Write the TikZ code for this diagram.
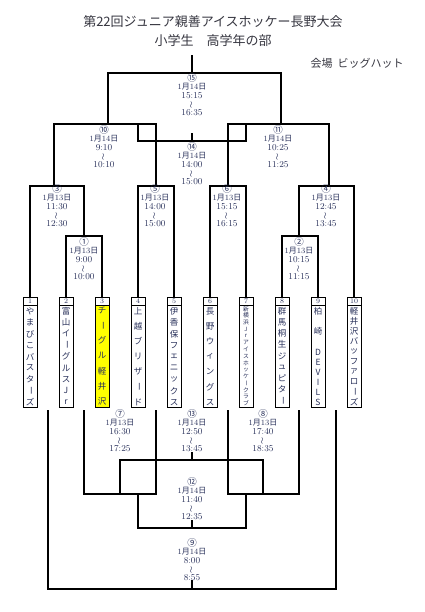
\documentclass[tikz,border=0pt]{standalone}
\usepackage{fontspec}
\newfontfamily\jp{Noto Sans CJK JP}
\usetikzlibrary{positioning}

\definecolor{ink}{RGB}{40,48,90}
\definecolor{titleink}{RGB}{55,55,65}
\definecolor{marker}{RGB}{255,255,0}

\newcommand{\mday}[1]{1{\jp 月}#1{\jp 日}}
\newcommand{\tm}[1]{{\fontsize{9}{8.6}\selectfont #1}}
\newcommand{\mno}[1]{{\jp\fontsize{9.5}{8.6}\selectfont #1}}
\newcommand{\wave}{\rotatebox[origin=c]{90}{\jp\fontsize{7}{7}\selectfont ～}}
\newcommand{\vlong}{\rotatebox[origin=c]{-90}{ー}}

\tikzset{
  bracket/.style={line width=1.8pt},
  numcell/.style={draw, line width=0.8pt, minimum width=14pt, minimum height=8pt, inner sep=0pt, outer sep=0pt, font=\fontsize{7}{7}\selectfont, text=ink},
  namecell/.style={draw, line width=0.8pt, minimum width=14pt, minimum height=102pt, inner sep=0pt, outer sep=0pt},
  matchinfo/.style={anchor=north, align=center, inner sep=0pt, font=\fontsize{8}{8.6}\selectfont, text=ink},
  teamchar/.style={inner sep=0pt, font=\jp\fontsize{8.5}{8.5}\selectfont, text=ink},
  smallchar/.style={inner sep=0pt, font=\jp\fontsize{5.8}{5.8}\selectfont, text=ink},
}

\begin{document}
\begin{tikzpicture}[x=1pt, y=-1pt]

    \useasboundingbox [fill=white] (0,0) rectangle (424,612);

    % title
    \node [font=\jp\fontsize{13}{13}\selectfont, text=titleink] (title) at (213,22) {第22回ジュニア親善アイスホッケー長野大会};
    \node [font=\jp\fontsize{13}{13}\selectfont, text=titleink] (subtitle) at (213,41) {小学生　高学年の部};
    \node [font=\jp\fontsize{11}{11}\selectfont, text=titleink] (venue) at (357,63) {会場\hspace{5pt}ビッグハット};

    % team boxes
    \node [numcell] (n1) at ( 30, 301) {1};
    \node [numcell] (n2) at ( 66, 301) {2};
    \node [numcell] (n3) at (102, 301) {3};
    \node [numcell] (n4) at (138, 301) {4};
    \node [numcell] (n5) at (174, 301) {5};
    \node [numcell] (n6) at (210, 301) {6};
    \node [numcell] (n7) at (246, 301) {7};
    \node [numcell] (n8) at (282, 301) {8};
    \node [numcell] (n9) at (318, 301) {9};
    \node [numcell] (n10) at (354, 301) {10};

    \node [namecell, below=0pt of n1] (t1) {};
    \node [namecell, below=0pt of n2] (t2) {};
    \node [namecell, below=0pt of n3, fill=marker] (t3) {};
    \node [namecell, below=0pt of n4] (t4) {};
    \node [namecell, below=0pt of n5] (t5) {};
    \node [namecell, below=0pt of n6] (t6) {};
    \node [namecell, below=0pt of n7] (t7) {};
    \node [namecell, below=0pt of n8] (t8) {};
    \node [namecell, below=0pt of n9] (t9) {};
    \node [namecell, below=0pt of n10] (t10) {};

    % team names
    \foreach \c [count=\i from 0] in {や,ま,び,こ,バ,ス,タ,{\vlong},ズ}
      \node [teamchar] (c1-\i) at (30, 311+\i*11.4) {\c};
    \foreach \c [count=\i from 0] in {富,山,イ,{\vlong},グ,ル,ス,J,r}
      \node [teamchar] (c2-\i) at (66, 311+\i*11.4) {\c};
    \foreach \c [count=\i from 0] in {チ,{\vlong},グ,ル,軽,井,沢}
      \node [teamchar] (c3-\i) at (102, 310+\i*15.3) {\c};
    \foreach \c [count=\i from 0] in {上,越,ブ,リ,ザ,{\vlong},ド}
      \node [teamchar] (c4-\i) at (138, 311+\i*15.2) {\c};
    \foreach \c [count=\i from 0] in {伊,香,保,フ,ェ,ニ,ッ,ク,ス}
      \node [teamchar] (c5-\i) at (174, 311+\i*11.4) {\c};
    \foreach \c [count=\i from 0] in {長,野,ウ,ィ,ン,グ,ス}
      \node [teamchar] (c6-\i) at (210, 311+\i*15.2) {\c};
    \foreach \c [count=\i from 0] in {新,横,浜,J,r,ア,イ,ス,ホ,ッ,ケ,{\vlong},ク,ラ,ブ}
      \node [smallchar] (c7-\i) at (246, 309+\i*6.75) {\c};
    \foreach \c [count=\i from 0] in {群,馬,桐,生,ジ,ュ,ピ,タ,{\vlong}}
      \node [teamchar] (c8-\i) at (282, 311+\i*11.2) {\c};
    \foreach \c/\y [count=\i from 0] in {柏/311, 崎/331, D/352, E/362, V/372, I/382, L/392, S/402}
      \node [teamchar] (c9-\i) at (318, \y) {\c};
    \foreach \c [count=\i from 0] in {軽,井,沢,バ,ッ,フ,ァ,ロ,{\vlong},ズ}
      \node [teamchar] (c10-\i) at (354, 311+\i*10.1) {\c};

    % upper bracket joints
    \coordinate (top) at (192, 55);
    \coordinate (j15) at (192, 73);
    \coordinate (j10) at (108, 124);
    \coordinate (j11) at (281, 124);
    \coordinate (j3) at ( 54, 186);
    \coordinate (j5) at (156, 186);
    \coordinate (j6) at (228, 186);
    \coordinate (j4) at (329, 186);
    \coordinate (j1) at ( 84, 236);
    \coordinate (j2) at (299, 236);
    \coordinate (k14l) at (138, 124);
    \coordinate (k14r) at (246, 124);
    \coordinate (j14) at (192, 141);

    % lower bracket joints
    \coordinate (d1) at ( 48, 410);
    \coordinate (d2) at ( 84, 410);
    \coordinate (d3) at (156, 410);
    \coordinate (d4) at (228, 410);
    \coordinate (d5) at (299, 410);
    \coordinate (d6) at (336, 410);
    \coordinate (j7) at (120, 494);
    \coordinate (j8) at (263, 494);
    \coordinate (j13) at (192, 460);
    \coordinate (k12l) at (138, 494);
    \coordinate (k12r) at (246, 494);
    \coordinate (j12) at (192, 528);
    \coordinate (j9) at (192, 589);

    % upper brackets
    \draw [bracket] (n2.north) |- (j1) -| (n3.north);
    \draw [bracket] (n8.north) |- (j2) -| (n9.north);
    \draw [bracket] (n1.north) |- (j3) -| (j1);
    \draw [bracket] (n4.north) |- (j5) -| (n5.north);
    \draw [bracket] (n6.north) |- (j6) -| (n7.north);
    \draw [bracket] (j2) |- (j4) -| (n10.north);
    \draw [bracket] (j3) |- (j10) -| (j5);
    \draw [bracket] (j6) |- (j11) -| (j4);
    \draw [bracket] (j10) |- (j15) -| (j11);
    \draw [bracket] (j15) -- (top);
    \draw [bracket] (k14l) |- (j14) -| (k14r);
    \draw [bracket] (j14) -- ++(0,-8);

    % lower brackets
    \draw [bracket] (d2) |- (j7) -| (d3);
    \draw [bracket] (d4) |- (j8) -| (d5);
    \draw [bracket] (j7) |- (j13) -| (j8);
    \draw [bracket] (j13) -- ++(0,-8);
    \draw [bracket] (k12l) |- (j12) -| (k12r);
    \draw [bracket] (j12) -- ++(0,-8);
    \draw [bracket] (d1) |- (j9) -| (d6);
    \draw [bracket] (j9) -- ++(0,-9);

    % match info
    \node [matchinfo] (m15) at (192, 73) {\mno{⑮}\\\mday{14}\\\tm{15:15}\\\wave\\\tm{16:35}};
    \node [matchinfo] (m10) at (104, 125) {\mno{⑩}\\\mday{14}\\\tm{9:10}\\\wave\\\tm{10:10}};
    \node [matchinfo] (m11) at (278, 125) {\mno{⑪}\\\mday{14}\\\tm{10:25}\\\wave\\\tm{11:25}};
    \node [matchinfo] (m14) at (192, 142) {\mno{⑭}\\\mday{14}\\\tm{14:00}\\\wave\\\tm{15:00}};
    \node [matchinfo] (m3) at ( 57, 184) {\mno{③}\\\mday{13}\\\tm{11:30}\\\wave\\\tm{12:30}};
    \node [matchinfo] (m5) at (155, 184) {\mno{⑤}\\\mday{13}\\\tm{14:00}\\\wave\\\tm{15:00}};
    \node [matchinfo] (m6) at (227, 184) {\mno{⑥}\\\mday{13}\\\tm{15:15}\\\wave\\\tm{16:15}};
    \node [matchinfo] (m4) at (326, 184) {\mno{④}\\\mday{13}\\\tm{12:45}\\\wave\\\tm{13:45}};
    \node [matchinfo] (m1) at ( 84, 237) {\mno{①}\\\mday{13}\\\tm{9:00}\\\wave\\\tm{10:00}};
    \node [matchinfo] (m2) at (299, 237) {\mno{②}\\\mday{13}\\\tm{10:15}\\\wave\\\tm{11:15}};
    \node [matchinfo] (m7) at (120, 409) {\mno{⑦}\\\mday{13}\\\tm{16:30}\\\wave\\\tm{17:25}};
    \node [matchinfo] (m13) at (192, 409) {\mno{⑬}\\\mday{14}\\\tm{12:50}\\\wave\\\tm{13:45}};
    \node [matchinfo] (m8) at (263, 409) {\mno{⑧}\\\mday{13}\\\tm{17:40}\\\wave\\\tm{18:35}};
    \node [matchinfo] (m12) at (192, 477) {\mno{⑫}\\\mday{14}\\\tm{11:40}\\\wave\\\tm{12:35}};
    \node [matchinfo] (m9) at (192, 538) {\mno{⑨}\\\mday{14}\\\tm{8:00}\\\wave\\\tm{8:55}};

\end{tikzpicture}
\end{document}
